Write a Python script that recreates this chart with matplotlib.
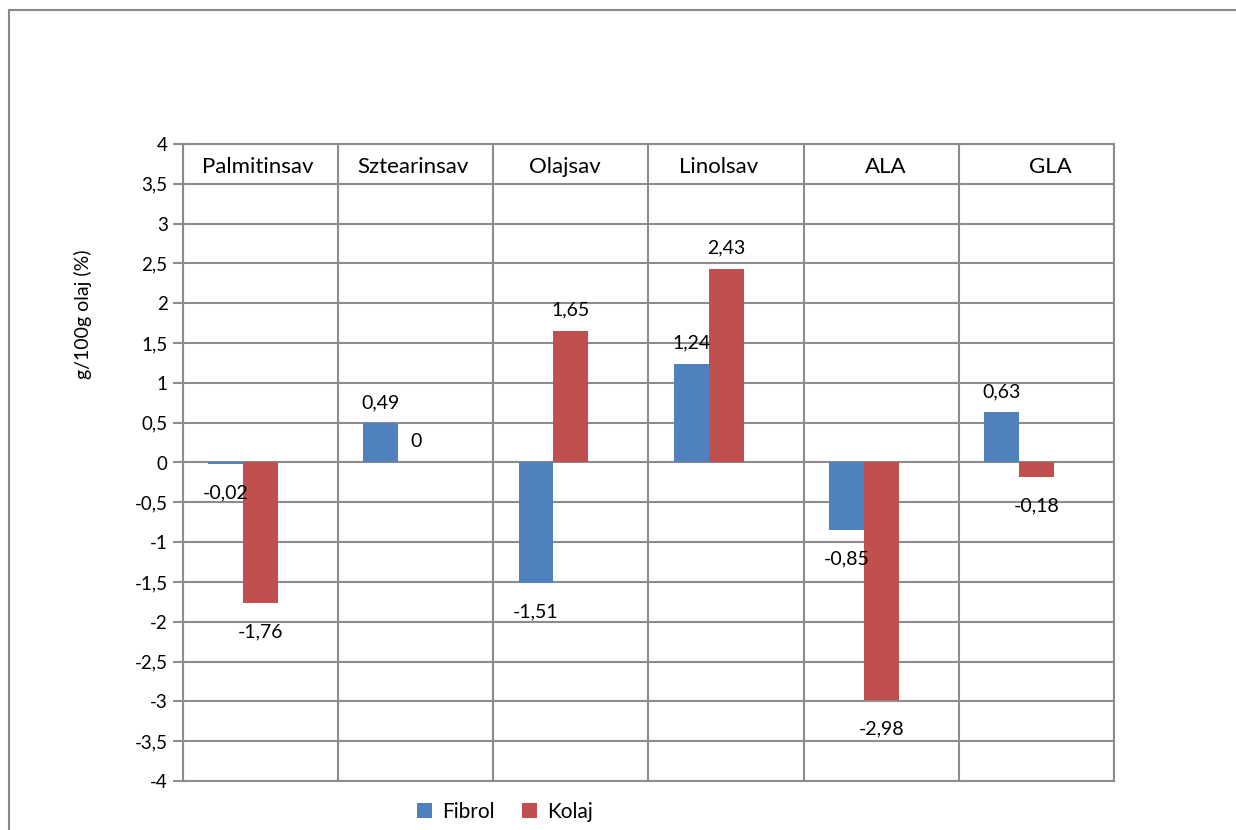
import matplotlib
matplotlib.use("Agg")
import matplotlib.pyplot as plt
from matplotlib.lines import Line2D
import numpy as np

plt.rcParams['font.family'] = ['Lato', 'DejaVu Sans']

categories = ["Palmitinsav", "Sztearinsav", "Olajsav", "Linolsav", "ALA", "GLA"]
fibrol = [-0.02, 0.49, -1.51, 1.24, -0.85, 0.63]
kolaj = [-1.76, 0.0, 1.65, 2.43, -2.98, -0.18]
series_names = ["Fibrol", "Kolaj"]
yticks = [4, 3.5, 3, 2.5, 2, 1.5, 1, 0.5, 0, -0.5, -1, -1.5, -2, -2.5, -3, -3.5, -4]

BLUE = "#4F81BD"
RED = "#C0504D"
GRID = "#8C8C8C"

fig = plt.figure(figsize=(12.36, 8.30), dpi=100)
ax = fig.add_axes([183/1236, 1-781/830, (1114-183)/1236, (781-144)/830])

x = np.arange(len(categories))
w = 0.225
ax.bar(x - w, fibrol, width=w, color=BLUE, zorder=3, label=series_names[0])
ax.bar(x, kolaj, width=w, color=RED, zorder=3, label=series_names[1])

def fmt(v):
    if v == 0:
        return "0"
    return f"{v:.2f}".replace(".", ",")

for xs, vals in ((x - w, fibrol), (x, kolaj)):
    for xi, v in zip(xs, vals):
        off = 15 if v >= 0 else -21
        ax.annotate(fmt(v), (xi, v), xytext=(0, off), textcoords="offset points",
                    ha="center", va="center", fontsize=14, color="black", zorder=5)

ax.set_xlim(-0.5, len(categories) - 0.5)
ax.set_ylim(-4, 4)
ax.set_yticks(yticks)
ax.set_yticklabels([("%g" % t).replace(".", ",") for t in yticks], fontsize=13.5)
ax.set_xticks([])
for t in yticks:
    ax.axhline(t, color=GRID, lw=1.5, zorder=1)
for b in np.arange(len(categories) + 1) - 0.5:
    ax.axvline(b, color=GRID, lw=1.5, zorder=1)
for s in ax.spines.values():
    s.set_color(GRID)
    s.set_linewidth(1.5)
ax.tick_params(axis='y', length=7, width=1.5, color=GRID, pad=4)

# category labels at top
label_shift = [-0.02, -0.02, -0.04, -0.05, 0.03, 0.09]
for xi, c, d in zip(x, categories, label_shift):
    ax.text(xi + d, 3.71, c, ha="center", va="center", fontsize=16, zorder=5)

fig.text(83/1236, 1-314/830, "g/100g olaj (%)", rotation=90, ha="center", va="center", fontsize=14)

fig.legend(loc="center", bbox_to_anchor=(505/1236, 1-812/830), ncol=2, frameon=False,
           fontsize=15, handlelength=0.7, handleheight=0.7, handletextpad=0.5,
           columnspacing=1.3)

# outer chart border (partially visible)
fig.add_artist(Line2D([9/1236, 9/1236], [0, 1-10/830], transform=fig.transFigure, color="#888888", lw=1.5))
fig.add_artist(Line2D([9/1236, 1], [1-10/830, 1-10/830], transform=fig.transFigure, color="#888888", lw=1.5))

fig.savefig("out.png", dpi=100)
